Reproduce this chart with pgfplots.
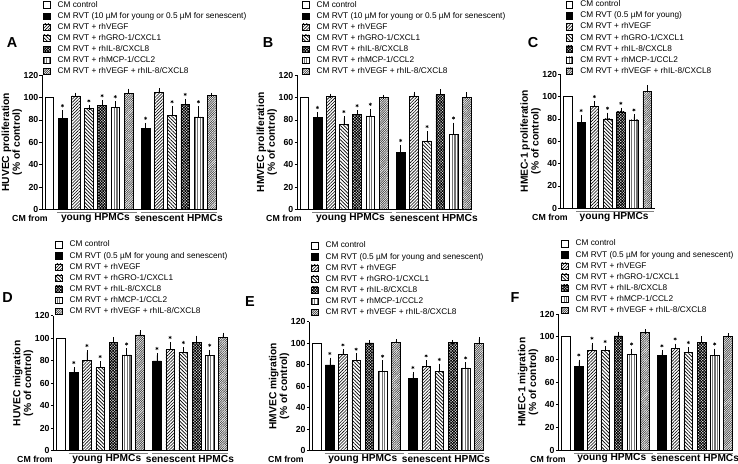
\documentclass[border=0pt]{standalone}
\usepackage{fontspec}
\setmainfont{Liberation Sans}
\usepackage{pgfplots}
\usepackage{pgfplotstable}
\pgfplotsset{compat=1.18}
\usetikzlibrary{patterns.meta,plotmarks}

% one row per group: young at g=0, senescent at g=6.3
\pgfplotstableread{
g   rvt  rvte vegf  vegfe gro  groe il8   il8e mcp  mcpe cmb   cmbe
0   81.5 5.2  101.5 0.8   90.3 0.7  93.2  2.4  91.1 3.6  103.6 2.4
6.3 72.5 2.9  104.7 1.8   84.3 5.9  93.8  2.9  82.8 7.4  101.8 0.6
}\tabA
\pgfplotstableread{
g   rvt  rvte vegf  vegfe gro  groe il8   il8e mcp  mcpe cmb   cmbe
0   82.0 3.0  100.9 0.6   76.0 5.4  85.2  1.5  83.7 4.2  100.0 0.6
6.3 50.9 4.7  101.2 2.1   61.2 6.8  103.0 2.3  67.2 8.5  100.0 2.7
}\tabB
\pgfplotstableread{
g   rvt  rvte vegf  vegfe gro  groe il8   il8e mcp  mcpe cmb   cmbe
0   77.0 4.5  91.6  2.4   80.0 3.6  86.3  1.7  79.1 3.0  105.0 3.4
}\tabC
\pgfplotstableread{
g   rvt  rvte vegf  vegfe gro  groe il8   il8e mcp  mcpe cmb   cmbe
0   69.4 3.0  80.1  7.4   73.9 3.8  96.1  3.0  85.2 3.8  103.0 2.3
6.3 79.8 5.1  90.2  4.5   87.2 3.0  96.1  4.2  84.6 3.2  100.9 2.1
}\tabD
\pgfplotstableread{
g   rvt  rvte vegf  vegfe gro  groe il8   il8e mcp  mcpe cmb   cmbe
0   79.8 4.7  89.5  3.0   83.9 4.6  100.3 0.6  74.2 7.8  100.6 1.3
6.3 67.4 4.0  78.3  4.0   73.6 5.3  100.6 0.6  77.0 3.4  100.0 3.7
}\tabE
\pgfplotstableread{
g   rvt  rvte vegf  vegfe gro  groe il8   il8e mcp  mcpe cmb   cmbe
0   73.5 4.4  88.2  4.4   87.6 2.1  100.6 1.8  84.7 2.9  103.8 0.6
6.3 83.5 2.4  89.7  2.3   86.2 2.6  95.0  3.5  83.8 3.8  100.0 1.2
}\tabF

\tikzset{grplab/.style={font=\bfseries\fontsize{10.2}{11}\selectfont, yshift=-8.5bp, inner sep=0pt}}
\pgfplotsset{
  swatch/.style={legend image code/.code={\draw[##1,line width=0.5bp] (0bp,-3.2bp) rectangle (6.4bp,3.2bp);}},
  bx/.style={ybar, bar shift=0pt, bar width=0.66, draw=black, line width=0.5bp, swatch},
  eb/.style={/pgfplots/error bars/y dir=plus, /pgfplots/error bars/y explicit,
    /pgfplots/error bars/error bar style={line width=0.5bp, black},
    /pgfplots/error bars/error mark options={mark size=2.2bp, line width=0.5bp, black}},
  pvegf/.style={pattern={Lines[angle=45,distance=2.2bp,line width=0.6bp]}},
  pgro/.style={pattern={Lines[angle=-45,distance=2.5bp,line width=0.7bp]}},
  pil8/.style={pattern={Hatch[angle=45,distance=2.0bp,line width=0.8bp]}},
  pmcp/.style={pattern={Lines[angle=90,distance=2.6bp,line width=1.1bp]}, pattern color=black!55},
  pcmb/.style={pattern={Lines[angle=45,distance=1.6bp,line width=0.7bp]}, pattern color=black!75},
  stars/.style={only marks, mark=asterisk, mark size=1.6bp, mark options={line width=0.5bp}, black, forget plot},
  panel/.style={
    scale only axis, anchor=south west, clip=false,
    xmin=-0.55, xmax=12.7, ymin=0, ymax=120,
    axis x line*=bottom, axis y line*=left,
    xtick=\empty, ytick={0,20,...,120},
    tick align=outside, major tick length=2.5bp,
    axis line style={line width=0.6bp},
    tick style={line width=0.6bp, black},
    yticklabel style={font=\bfseries\fontsize{8.8}{9.5}\selectfont, inner sep=1bp},
    /pgf/number format/assume math mode=true,
    ylabel style={font=\bfseries\fontsize{10.3}{10.8}\selectfont, align=center, inner sep=0.5bp},
    legend cell align=left,
    legend style={draw=none, fill=none, anchor=north west, at={(0,1)},
      inner sep=0pt, column sep=7bp, row sep=1.9bp,
      nodes={font=\fontsize{8.3}{9}\selectfont, inner sep=0.6bp, text height=6.2bp, text depth=1.8bp}},
  },
}

\newcommand{\bars}[2]{%
  \addplot[bx, fill=white] coordinates {(0,100)};
  \addlegendentry{CM control}
  \addplot[bx, fill=black, eb] table[x expr=\thisrow{g}+1, y=rvt, y error=rvte] {#1};
  \addlegendentry{#2}
  \addplot[bx, pvegf, eb] table[x expr=\thisrow{g}+2, y=vegf, y error=vegfe] {#1};
  \addlegendentry{CM RVT + rhVEGF}
  \addplot[bx, pgro, eb] table[x expr=\thisrow{g}+3, y=gro, y error=groe] {#1};
  \addlegendentry{CM RVT + rhGRO-1/CXCL1}
  \addplot[bx, pil8, eb] table[x expr=\thisrow{g}+4, y=il8, y error=il8e] {#1};
  \addlegendentry{CM RVT + rhIL-8/CXCL8}
  \addplot[bx, pmcp, eb] table[x expr=\thisrow{g}+5, y=mcp, y error=mcpe] {#1};
  \addlegendentry{CM RVT + rhMCP-1/CCL2}
  \addplot[bx, pcmb, eb] table[x expr=\thisrow{g}+6, y=cmb, y error=cmbe] {#1};
  \addlegendentry{CM RVT + rhVEGF + rhIL-8/CXCL8}
}
\newcommand{\grpyoung}[1]{%
  \draw[black!50, line width=0.8bp, yshift=-3bp] (axis cs:0.62,0) -- (axis cs:#1,0);
  \node[grplab] at (axis cs:3.5,0) {young HPMCs};
}
\newcommand{\grpsen}{%
  \draw[black!50, line width=0.8bp, yshift=-3bp] (axis cs:6.95,0) -- (axis cs:12.7,0);
  \node[grplab] at (axis cs:9.8,0) {senescent HPMCs};
}

\begin{document}
\begin{tikzpicture}
\useasboundingbox (0,0) rectangle (738bp,464bp);

% A
\begin{axis}[panel, at={(42bp,254.5bp)}, width=174.9bp, height=134.4bp,
  ylabel={HUVEC proliferation\\(\% of control)},
  legend style={xshift=1bp, yshift=75bp}]
\bars{\tabA}{CM RVT (10 µM for young or 0.5 µM for senescent)}
\addplot[stars] coordinates {(1,92.7) (3,97) (4,101.6) (5,100.7) (7.3,81.4) (9.3,96.2) (10.3,102.7) (11.3,96.2)};
\grpyoung{6.62}\grpsen
\end{axis}

% B
\begin{axis}[panel, at={(297bp,254.5bp)}, width=174.9bp, height=134.4bp,
  ylabel={HMVEC proliferation\\(\% of control)},
  legend style={xshift=5bp, yshift=75bp}]
\bars{\tabB}{CM RVT (10 µM for young or 0.5 µM for senescent)}
\addplot[stars] coordinates {(1,91) (3,87.4) (4,92.7) (5,93.9) (7.3,61.6) (9.3,74) (11.3,81.7)};
\grpyoung{6.62}\grpsen
\end{axis}

% C
\begin{axis}[panel, at={(560.7bp,255.7bp)}, width=94.4bp, height=134bp, xmax=6.6,
  ylabel={HMEC-1 proliferation\\(\% of control)},
  legend style={xshift=5bp, yshift=74.5bp}]
\bars{\tabC}{CM RVT (0.5 µM for young)}
\addplot[stars] coordinates {(1,87.5) (2,100) (3,89.6) (4,94) (5,88.1)};
\grpyoung{6.5}
\end{axis}

% D
\begin{axis}[panel, at={(53.3bp,13.3bp)}, width=174.9bp, height=134.9bp,
  ylabel={HUVEC migration\\(\% of control)},
  legend style={xshift=1.7bp, yshift=75.8bp}]
\bars{\tabD}{CM RVT (0.5 µM for young and senescent)}
\addplot[stars] coordinates {(1,78.4) (2,93.5) (3,83.7) (5,95) (7.3,90.9) (8.3,100.7) (9.3,96.2) (11.3,93.8)};
\grpyoung{6.62}\grpsen
\end{axis}

% E
\begin{axis}[panel, at={(309.3bp,13.3bp)}, width=174.9bp, height=128.9bp,
  ylabel={HMVEC migration\\(\% of control)},
  legend style={xshift=1.7bp, yshift=80.8bp}]
\bars{\tabE}{CM RVT (0.5 µM for young and senescent)}
\addplot[stars] coordinates {(1,90.5) (2,98.5) (3,94.5) (5,88) (7.3,77.4) (8.3,88.3) (9.3,84.9) (11.3,86.4)};
\grpyoung{6.62}\grpsen
\end{axis}

% F
\begin{axis}[panel, at={(558.3bp,14bp)}, width=174.9bp, height=136bp,
  ylabel={HMEC-1 migration\\(\% of control)},
  legend style={xshift=2.7bp, yshift=75bp}]
\bars{\tabF}{CM RVT (0.5 µM for young and senescent)}
\addplot[stars] coordinates {(1,83.9) (2,98.6) (3,95.7) (5,93.6) (7.3,91.9) (8.3,98) (9.3,94.8) (11.3,93.6)};
\grpyoung{6.62}\grpsen
\end{axis}

% panel letters and row captions
\begin{scope}[every node/.style={font=\bfseries\fontsize{14.5}{16}\selectfont, inner sep=0pt}]
\node at (12bp,421bp) {A};
\node at (268bp,421bp) {B};
\node at (533bp,421bp) {C};
\node at (7.5bp,166bp) {D};
\node at (250bp,162bp) {E};
\node at (515bp,166bp) {F};
\end{scope}
\begin{scope}[every node/.style={font=\bfseries\fontsize{8.8}{10}\selectfont, inner sep=0pt}]
\node at (30bp,246bp) {CM from};
\node at (284bp,246bp) {CM from};
\node at (550bp,247bp) {CM from};
\node at (35bp,5bp) {CM from};
\node at (286bp,5bp) {CM from};
\node at (548bp,5bp) {CM from};
\end{scope}
\end{tikzpicture}
\end{document}
